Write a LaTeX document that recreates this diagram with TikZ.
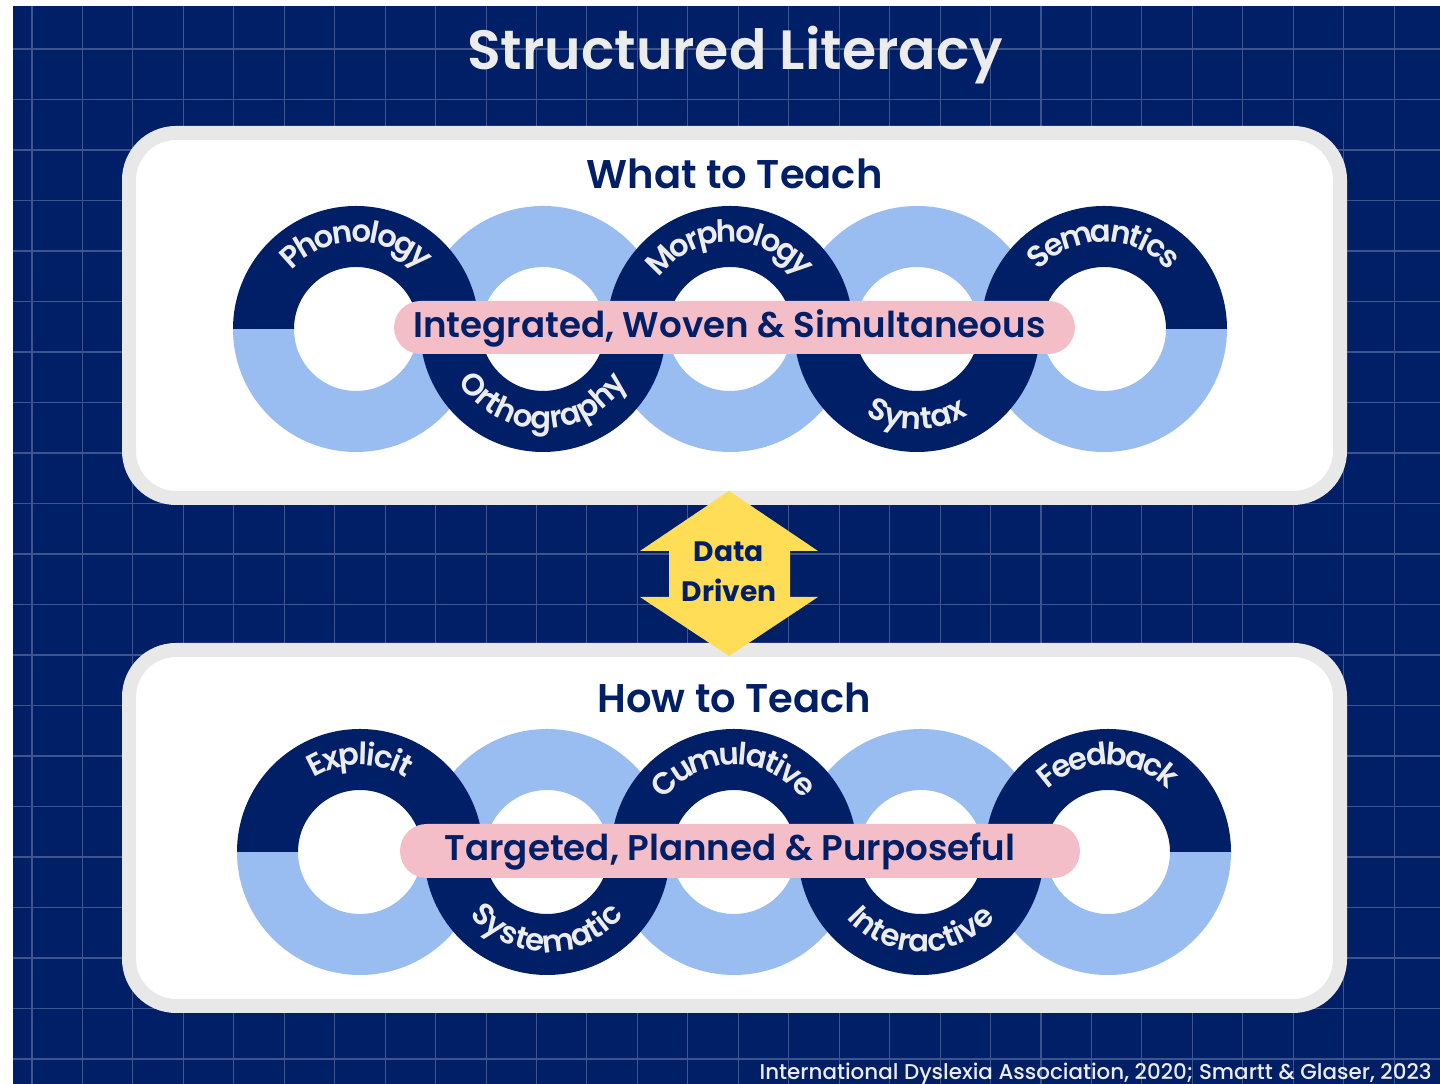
\documentclass[tikz,border=0pt]{standalone}
\usepackage{fontspec}
\setmainfont{Poppins}
\newfontfamily\popsemi{Poppins SemiBold}
\newfontfamily\popmed{Poppins Medium}
\usepackage{tikz}
\usetikzlibrary{decorations.text}
\definecolor{navy}{RGB}{1,31,102}
\definecolor{gridblue}{RGB}{62,84,142}
\definecolor{ringlight}{RGB}{153,189,240}
\definecolor{pillpink}{RGB}{244,190,201}
\definecolor{ddyellow}{RGB}{255,221,87}
\definecolor{panelgrey}{RGB}{232,232,232}
\definecolor{lbl}{RGB}{236,236,236}
\newcommand{\ringfont}{\fontsize{17.5}{17.5}\popsemi}
\tikzstyle{gridline} = [draw=gridblue, line width=0.6pt]
\tikzstyle{panel} = [fill=white, draw=panelgrey, line width=0.28cm, rounded corners=0.94cm]
\tikzstyle{heading} = [text=navy, font=\fontsize{22.8}{22.8}\popsemi]
\tikzstyle{pill} = [fill=pillpink, rounded corners=0.53cm, inner sep=0pt]
\tikzstyle{pilltext} = [text=navy, font=\fontsize{20.3}{20.3}\popsemi]

\begin{document}
\begin{tikzpicture}[x=0.02cm, y=0.02cm]
  \useasboundingbox (0,0) rectangle (1440,1084);
  \fill[white] (0,0) rectangle (1440,1084);
  \fill[navy] (13,0) rectangle (1440,1078);
  \foreach \g in {0,...,27} \draw[gridline] ({32+50.45*\g},0) -- ({32+50.45*\g},1078);
  \foreach \g in {0,...,20} \draw[gridline] (13,{1035-50.5*\g}) -- (1440,{1035-50.5*\g});

  \node[text=lbl, font=\fontsize{31.5}{31.5}\popsemi] (title) at (735,1029) {Structured Literacy};

  \draw[panel] (129,951) rectangle (1340,586);
  \draw[panel] (129,434) rectangle (1340,78);
  \node[heading] (what) at (734.5,910) {What to Teach};
  \node[heading] (how) at (734.5,386) {How to Teach};

  \foreach \cx [count=\i] in {356,543,730,917,1104} \coordinate (u\i) at (\cx,755);
  \foreach \cx [count=\i] in {360,547,734,921,1108} \coordinate (l\i) at (\cx,232);

  \foreach \c/\a in {u1/180,u2/0,u3/180,u4/0,u5/180,l1/180,l2/0,l3/180,l4/0,l5/180}
    \fill[ringlight] (\c) ++(\a:123) arc[start angle=\a, end angle=\a+180, radius=123]
      -- ++(\a:61) arc[start angle=\a+180, end angle=\a, radius=62] -- cycle;
  \foreach \c/\a in {u1/0,u2/180,u3/0,u4/180,u5/0,l1/0,l2/180,l3/0,l4/180,l5/0}
    \fill[navy] (\c) ++(\a:123) arc[start angle=\a, end angle=\a+180, radius=123]
      -- ++(\a:61) arc[start angle=\a+180, end angle=\a, radius=62] -- cycle;

  \foreach \c/\w in {u1/Phonology,u3/Morphology,u5/Semantics,l1/Explicit,l3/Cumulative,l5/Feedback}
    \path[decorate, decoration={text along path, text align=center, text color=lbl, raise=-0.28cm,
      text/.expanded={|\noexpand\ringfont|\w}}]
      (\c) ++(180:101) arc[start angle=180, end angle=0, radius=101];
  \foreach \c/\w in {u2/Orthography,u4/Syntax,l2/Systematic,l4/Interactive}
    \path[decorate, decoration={text along path, text align=center, text color=lbl,
      text/.expanded={|\noexpand\ringfont|\w}}]
      (\c) ++(180:100) arc[start angle=180, end angle=360, radius=100];

  \node[pill, minimum width=13.62cm, minimum height=1.06cm] (weavebar) at (734.5,756.5) {};
  \node[pilltext] (weave) at (729.5,756) {Integrated, Woven \& Simultaneous};
  \node[pill, minimum width=13.6cm, minimum height=1.08cm] (aimsbar) at (740,233) {};
  \node[pilltext] (aims) at (730,232.5) {Targeted, Planned \& Purposeful};

  \fill[ddyellow] (729,593) -- (818,533) -- (790,533) -- (790,487) -- (818,487) -- (729,428)
    -- (640,487) -- (669,487) -- (669,533) -- (640,533) -- cycle;
  \node[text=navy, align=center, font=\fontsize{16}{22.8}\bfseries] (dd) at (729,512) {Data\\Driven};

  \node[text=lbl, anchor=base east, inner sep=0pt, font=\fontsize{12.2}{12.2}\popmed] (cite) at (1432,4)
    {International Dyslexia Association, 2020; Smartt \& Glaser, 2023};
\end{tikzpicture}
\end{document}
